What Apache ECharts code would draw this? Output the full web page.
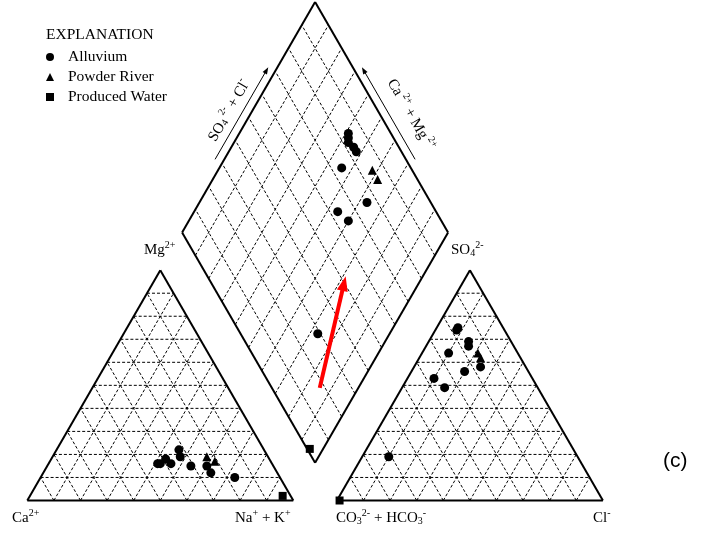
<!DOCTYPE html>
<html>
<head>
<meta charset="utf-8">
<script src="https://cdn.jsdelivr.net/npm/echarts@6/dist/echarts.min.js"></script>
<style>
  html, body { margin: 0; padding: 0; background: #fff; }
  #chart { width: 704px; height: 535px; }
</style>
</head>
<body>
<div id="chart"></div>
<script>
// Major-ion composition of each sample, percent of total milliequivalents
const alluviumCa   = [43, 42, 39, 32, 33, 38, 31, 25, 25, 17];
const alluviumMg   = [16, 16, 18, 22, 19, 16, 15, 15, 12, 10];
const alluviumNaK  = [41, 42, 43, 46, 48, 46, 54, 60, 63, 73];
const alluviumHCO3 = [16, 17, 18, 17, 17, 26, 37, 35, 24, 71];
const alluviumSO4  = [69, 75, 74, 67, 58, 64, 53, 49, 56, 19];
const alluviumCl   = [15,  8,  8, 16, 25, 10, 10, 16, 20, 10];

const riverCa   = [23, 21];
const riverMg   = [19, 17];
const riverNaK  = [58, 62];
const riverHCO3 = [15, 15];
const riverSO4  = [64, 62];
const riverCl   = [21, 23];

const producedCa   = [3];
const producedMg   = [2];
const producedNaK  = [95];
const producedHCO3 = [99];
const producedSO4  = [0];
const producedCl   = [1];

// Trend arrow in the diamond field: [Ca+Mg %, SO4+Cl %] at tail and head
const trendFrom = [14.5, 18];
const trendTo   = [29, 52];

const seriesNames = ['Alluvium', 'Powder River', 'Produced Water'];

// ---- Piper geometry (triangle side = 100 units) ----
const GAP = 16.4;
const H = Math.sqrt(3) / 2;
const SERIF = '"Liberation Serif", "Times New Roman", serif';

function cationXY(ca, mg, nak) { return [nak + mg / 2, mg * H]; }
function anionXY(hco3, so4, cl) { return [100 + GAP + cl + so4 / 2, so4 * H]; }
function diamondXY(camg, so4cl) {
  return [100 + GAP / 2 + (so4cl - camg) / 2, GAP * H + (camg + so4cl) * H];
}

function groupPoints(ca, mg, nak, hco3, so4, cl) {
  const pts = [];
  for (let i = 0; i < ca.length; i++) {
    pts.push(cationXY(ca[i], mg[i], nak[i]));
    pts.push(anionXY(hco3[i], so4[i], cl[i]));
    pts.push(diamondXY(ca[i] + mg[i], so4[i] + cl[i]));
  }
  return pts;
}

// dashed 10 % grid and solid outlines
const gridSegs = [];
const edgeSegs = [];
function seg(list, p, q) { list.push([p[0], p[1], q[0], q[1]]); }

[0, 100 + GAP].forEach(function (ox) {
  for (let i = 1; i < 10; i++) {
    const k = i * 10;
    seg(gridSegs, [ox + k / 2, k * H], [ox + 100 - k / 2, k * H]);
    seg(gridSegs, [ox + k, 0], [ox + k + (100 - k) / 2, (100 - k) * H]);
    seg(gridSegs, [ox + 100 - k, 0], [ox + (100 - k) / 2, (100 - k) * H]);
  }
  seg(edgeSegs, [ox, 0], [ox + 100, 0]);
  seg(edgeSegs, [ox + 100, 0], [ox + 50, 100 * H]);
  seg(edgeSegs, [ox + 50, 100 * H], [ox, 0]);
});
for (let i = 1; i < 10; i++) {
  const k = i * 10;
  seg(gridSegs, diamondXY(k, 0), diamondXY(k, 100));
  seg(gridSegs, diamondXY(0, k), diamondXY(100, k));
}
const dB = diamondXY(0, 0), dL = diamondXY(100, 0), dT = diamondXY(100, 100), dR = diamondXY(0, 100);
seg(edgeSegs, dB, dL); seg(edgeSegs, dL, dT); seg(edgeSegs, dT, dR); seg(edgeSegs, dR, dB);

// direction arrows running beside the upper edges of the diamond
function sideArrow(from, to, nx, ny, t0, t1, off) {
  const p = [from[0] + (to[0] - from[0]) * t0 + nx * off, from[1] + (to[1] - from[1]) * t0 + ny * off];
  const q = [from[0] + (to[0] - from[0]) * t1 + nx * off, from[1] + (to[1] - from[1]) * t1 + ny * off];
  return [p[0], p[1], q[0], q[1]];
}
const sideArrows = [
  sideArrow(dL, dT, -H, 0.5, 0.30, 0.70, 3.0),
  sideArrow(dR, dT,  H, 0.5, 0.30, 0.70, 3.0)
];
const trendArrow = [diamondXY(trendFrom[0], trendFrom[1]).concat(diamondXY(trendTo[0], trendTo[1]))];

function segmentSeries(segs, style, z) {
  return {
    type: 'custom', silent: true, coordinateSystem: 'cartesian2d', z: z,
    data: segs, encode: { x: [0, 2], y: [1, 3] },
    renderItem: function (params, api) {
      const a = api.coord([api.value(0), api.value(1)]);
      const b = api.coord([api.value(2), api.value(3)]);
      return { type: 'line', shape: { x1: a[0], y1: a[1], x2: b[0], y2: b[1] }, style: style };
    }
  };
}

function arrowSeries(segs, color, width, headLen, headW, z) {
  return {
    type: 'custom', silent: true, coordinateSystem: 'cartesian2d', z: z,
    data: segs, encode: { x: [0, 2], y: [1, 3] },
    renderItem: function (params, api) {
      const a = api.coord([api.value(0), api.value(1)]);
      const b = api.coord([api.value(2), api.value(3)]);
      const dx = b[0] - a[0], dy = b[1] - a[1];
      const len = Math.sqrt(dx * dx + dy * dy);
      const ux = dx / len, uy = dy / len;
      const bx = b[0] - ux * headLen, by = b[1] - uy * headLen;
      return {
        type: 'group',
        children: [
          { type: 'line', shape: { x1: a[0], y1: a[1], x2: bx + ux, y2: by + uy },
            style: { stroke: color, lineWidth: width } },
          { type: 'polygon',
            shape: { points: [[b[0], b[1]], [bx - uy * headW / 2, by + ux * headW / 2], [bx + uy * headW / 2, by - ux * headW / 2]] },
            style: { fill: color } }
        ]
      };
    }
  };
}

// rich-text styles for ion labels with super- and subscripts
const rich = {
  m: { fontSize: 15, fontFamily: SERIF, fill: '#000', lineHeight: 18, verticalAlign: 'bottom' },
  p: { fontSize: 10, fontFamily: SERIF, fill: '#000', lineHeight: 10, padding: [0, 0, 13, 0], verticalAlign: 'top' },
  b: { fontSize: 10, fontFamily: SERIF, fill: '#000', lineHeight: 10, verticalAlign: 'bottom' }
};
function ionLabel(text, x, y, opts) {
  opts = opts || {};
  return {
    type: 'text', x: x, y: y, rotation: opts.rotation || 0, silent: true,
    style: { text: text, rich: rich, align: opts.align || 'left', verticalAlign: opts.va || 'top' }
  };
}

const pointStyle = { color: '#000', opacity: 1 };

const chart = echarts.init(document.getElementById('chart'), null, { renderer: 'canvas' });
chart.setOption({
  backgroundColor: '#fff',
  animation: false,
  title: {
    text: 'EXPLANATION', left: 46, top: 27, padding: 0,
    textStyle: { fontFamily: SERIF, fontSize: 15.5, fontWeight: 'normal', color: '#000' }
  },
  legend: {
    data: seriesNames, orient: 'vertical', left: 46, top: 49, padding: 0,
    itemWidth: 8, itemHeight: 8, itemGap: 4,
    formatter: function (name) { return '{t|' + name + '}'; },
    textStyle: {
      fontFamily: SERIF, fontSize: 15.5, color: '#000',
      rich: { t: { fontFamily: SERIF, fontSize: 15.5, color: '#000', padding: [0, 0, 0, 9] } }
    }
  },
  grid: { left: 27.3, top: 2.1, width: 575.6, height: 498.4 },
  xAxis: { type: 'value', min: 0, max: 200 + GAP, show: false },
  yAxis: { type: 'value', min: 0, max: (200 + GAP) * H, show: false },
  graphic: [
    ionLabel('{m|Mg}{p|2+}', 144, 240),
    ionLabel('{m|SO}{b|4}{p|2-}', 451, 240),
    ionLabel('{m|Ca}{p|2+}', 12, 508),
    ionLabel('{m|Na}{p|+}{m| + K}{p|+}', 235, 508),
    ionLabel('{m|CO}{b|3}{p|2-}{m| + HCO}{b|3}{p|-}', 336, 508),
    ionLabel('{m|Cl}{p|-}', 593, 508),
    ionLabel('{m|SO}{b|4}{p| 2-}{m| + Cl}{p|-}', 228, 110, { rotation: Math.PI / 3, align: 'center', va: 'middle' }),
    ionLabel('{m|Ca}{p| 2+}{m| + Mg}{p| 2+}', 412, 114, { rotation: -Math.PI / 3, align: 'center', va: 'middle' }),
    {
      type: 'text', x: 663, y: 451, silent: true,
      style: { text: '(c)', fontFamily: '"Liberation Sans", Arial, sans-serif', fontSize: 21, fill: '#000' }
    }
  ],
  series: [
    segmentSeries(gridSegs, { stroke: '#000', lineWidth: 1, lineDash: [3, 2] }, 1),
    segmentSeries(edgeSegs, { stroke: '#000', lineWidth: 2 }, 2),
    arrowSeries(sideArrows, '#000', 1, 7, 5, 2),
    arrowSeries(trendArrow, '#ff0000', 4, 15, 11, 6),
    {
      type: 'scatter', name: seriesNames[0], symbol: 'circle', symbolSize: 9, z: 5,
      itemStyle: pointStyle,
      data: groupPoints(alluviumCa, alluviumMg, alluviumNaK, alluviumHCO3, alluviumSO4, alluviumCl)
    },
    {
      type: 'scatter', name: seriesNames[1], symbol: 'triangle', symbolSize: 9, z: 5,
      itemStyle: pointStyle,
      data: groupPoints(riverCa, riverMg, riverNaK, riverHCO3, riverSO4, riverCl)
    },
    {
      type: 'scatter', name: seriesNames[2], symbol: 'rect', symbolSize: 8, z: 5,
      itemStyle: pointStyle,
      data: groupPoints(producedCa, producedMg, producedNaK, producedHCO3, producedSO4, producedCl)
    }
  ]
});
</script>
</body>
</html>
